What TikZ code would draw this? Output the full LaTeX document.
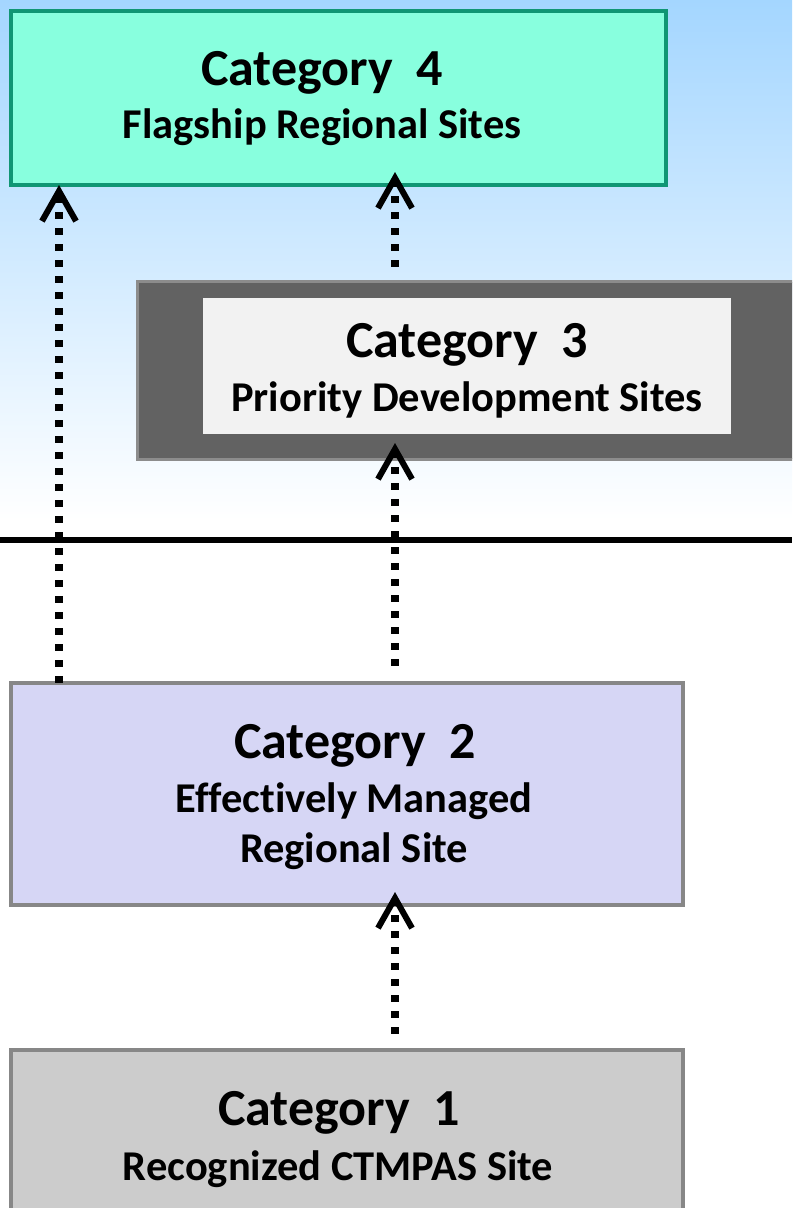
\documentclass[tikz,border=0pt]{standalone}
\usepackage{fontspec}
\setmainfont{Carlito}[Ligatures=NoCommon]
\usetikzlibrary{arrows.meta}
\definecolor{skytop}{RGB}{164,214,255}
\definecolor{flagfill}{RGB}{136,255,222}
\definecolor{flagline}{RGB}{16,150,116}
\definecolor{framefill}{RGB}{98,98,98}
\definecolor{frameline}{RGB}{140,140,140}
\definecolor{priofill}{RGB}{242,242,242}
\definecolor{mgdfill}{RGB}{214,214,245}
\definecolor{boxline}{RGB}{135,135,135}
\definecolor{recfill}{RGB}{204,204,204}
\tikzset{
  catbox/.style={rectangle, inner sep=0pt, outer sep=0pt, line width=0.1cm},
  cattitle/.style={anchor=base, inner sep=0pt, font=\fontsize{37}{44}\selectfont\bfseries},
  catsub/.style={anchor=base, inner sep=0pt, font=\fontsize{30.2}{36}\selectfont\bfseries},
  upar/.style={line width=0.18cm, dash pattern=on 0.18cm off 0.22cm,
    -{Straight Barb[length=0.75cm, width=0.85cm, line width=0.15cm]}}
}
\begin{document}
\begin{tikzpicture}[x=0.025cm, y=-0.025cm]
\useasboundingbox (0,0) rectangle (792,1208);
\clip (0,0) rectangle (792,1208);
\shade [top color=skytop, bottom color=white] (0,0) rectangle (792,520);
\coordinate (lineL) at (0,540);
\coordinate (lineR) at (792,540);
\draw [line width=0.16cm] (lineL) -- (lineR);
\node [catbox, draw=flagline, fill=flagfill, minimum width=16.375cm, minimum height=4.35cm] (cat4) at (338.5,98) {};
\node [catbox, draw=frameline, fill=framefill, line width=0.075cm, minimum width=16.8cm, minimum height=4.425cm] (cat3) at (474,370.5) {};
\node [rectangle, inner sep=0pt, fill=priofill, minimum width=13.2cm, minimum height=3.4cm] (cat3in) at (467,366) {};
\node [catbox, draw=boxline, fill=mgdfill, minimum width=16.8cm, minimum height=5.55cm] (cat2) at (347,794) {};
\node [catbox, draw=boxline, fill=recfill, minimum width=16.8cm, minimum height=4.5cm] (cat1) at (347,1140) {};
\node [cattitle] (t4) at (322,86) {Category~~4};
\node [catsub] (s4) at (322,139) {Flagship Regional Sites};
\node [cattitle] (t3) at (467,357) {Category~~3};
\node [catsub] (s3) at (467,411) {Priority Development Sites};
\node [cattitle] (t2) at (355,758) {Category~~2};
\node [catsub] (s2a) at (354,812) {Effectively Managed};
\node [catsub] (s2b) at (354,862) {Regional Site};
\node [cattitle] (t1) at (339,1125) {Category~~1};
\node [catsub] (s1) at (338,1180) {Recognized CTMPAS Site};
\coordinate (colA) at (59,0);
\coordinate (colB) at (395,0);
\draw [upar] (cat2.north -| colA) -- (cat4.south -| colA);
\draw [upar, shorten <=0.375cm, shorten >=-0.325cm] (cat3.north -| colB) -- (cat4.south -| colB);
\draw [upar, shorten <=0.425cm, shorten >=-0.4cm] (cat2.north -| colB) -- (cat3.south -| colB);
\draw [upar, shorten <=0.4cm, shorten >=-0.325cm] (cat1.north -| colB) -- (cat2.south -| colB);
\end{tikzpicture}
\end{document}
